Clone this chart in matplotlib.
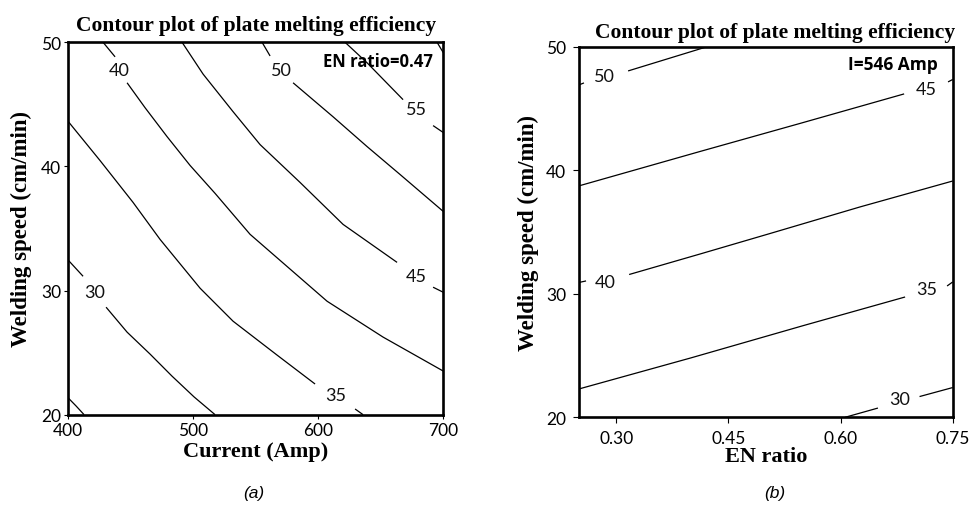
import matplotlib.pyplot as plt

# (a) efficiency contours over current / welding speed, EN ratio = 0.47
# each level: list of line pieces, each piece a list of (current, speed) points
cur_levels = [25, 30, 35, 40, 45, 50, 55, 60]
cur_lines = [
    [[(400, 21.34), (406.2, 20.7), (412.6, 20)]],
    [[(400, 32.44), (411.8, 31.15)],
     [(430.2, 28.66), (447.0, 26.65), (465.4, 24.88), (483.0, 23.1), (500.6, 21.43), (517.4, 20)]],
    [[(400, 43.61), (425.4, 40.47), (451.8, 37.1), (473.4, 34.12), (505.4, 30.19), (531.8, 27.53),
      (567.0, 24.8), (597.4, 22.47)],
     [(629.4, 20.46), (635.8, 20)]],
    [[(427.8, 50), (437.4, 48.83)],
     [(447.0, 46.74), (461.4, 44.73), (479.0, 42.4), (497.4, 40.08), (517.4, 37.83), (545.4, 34.53),
      (607.0, 29.14), (651.8, 26.25), (700, 23.51)]],
    [[(491.0, 50), (507.8, 47.44), (531.8, 44.41), (553.4, 41.76), (585.4, 38.71), (619.8, 35.33),
      (663.0, 32.27)],
     [(691.8, 30.27), (700, 29.86)]],
    [[(555.0, 50), (561.4, 48.9)],
     [(579.8, 46.74), (611.8, 44.0), (625.4, 42.8), (639.0, 41.6), (665.4, 39.35), (700, 36.37)]],
    [[(621.4, 50), (639.0, 48.35), (667.8, 45.38)],
     [(691.8, 43.29), (700, 42.73)]],
    [[(695.0, 50), (700, 49.16)]],
]
# inline labels: (level, current, speed)
cur_labels = [(30, 421.4, 29.9), (35, 614.2, 21.6), (40, 440.6, 47.8),
              (45, 678.2, 31.2), (50, 570.2, 47.8), (55, 678.2, 44.6)]
cur_ticks = [400, 500, 600, 700]

# (b) efficiency contours over EN ratio / welding speed, I = 546 Amp
en_levels = [30, 35, 40, 45, 50]
en_lines = [
    [[(0.606, 20), (0.650, 20.75)],
     [(0.7056, 21.68), (0.75, 22.41)]],
    [[(0.25, 22.29), (0.40, 24.81), (0.55, 27.42), (0.6863, 29.74)],
     [(0.7424, 30.63), (0.75, 30.96)]],
    [[(0.25, 30.91), (0.2598, 31.04)],
     [(0.3174, 31.56), (0.4122, 33.22), (0.5058, 34.88), (0.626, 37.03), (0.75, 39.13)]],
    [[(0.25, 38.73), (0.4122, 41.52), (0.5458, 43.79), (0.685, 46.18)],
     [(0.7437, 47.15), (0.75, 47.35)]],
    [[(0.25, 46.9), (0.257, 47.07)],
     [(0.316, 48.04), (0.4216, 50)]],
]
en_labels = [(30, 0.6796, 21.5), (35, 0.7146, 30.4), (40, 0.285, 30.95),
             (45, 0.7143, 46.6), (50, 0.284, 47.65)]
en_ticks = [0.30, 0.45, 0.60, 0.75]

speed_ticks = [20, 30, 40, 50]

serif = "Liberation Serif"
sans = "Lato"
title = "Contour plot of plate melting efficiency"

fig = plt.figure(figsize=(9.72, 5.06), dpi=100)
ax1 = fig.add_axes([0.0703, 0.1785, 0.3858, 0.7359])
ax2 = fig.add_axes([0.5954, 0.1733, 0.3848, 0.7324])


def draw_panel(ax, lines, labels):
    for pieces in lines:
        for piece in pieces:
            xs = [p[0] for p in piece]
            ys = [p[1] for p in piece]
            ax.plot(xs, ys, color="black", lw=0.9, solid_capstyle="butt")
    for level, x, y in labels:
        ax.text(x, y, str(level), ha="center", va="center", fontsize=13,
                family=sans, color="#111111")
    for s in ax.spines.values():
        s.set_linewidth(1.9)
    ax.set_yticks(speed_ticks)
    ax.set_ylim(20, 50)
    ax.set_ylabel("Welding speed (cm/min)", family=serif, fontweight="bold",
                  fontsize=16.5)


draw_panel(ax1, cur_lines, cur_labels)
ax1.set_xlim(400, 700)
ax1.set_xticks(cur_ticks)
ax1.set_xlabel("Current (Amp)", family=serif, fontweight="bold", fontsize=16)
ax1.tick_params(length=3, width=0.8, pad=2, labelsize=12.5)
ax1.set_title(title, family=serif, fontweight="bold", fontsize=15.5, pad=9)
ax1.text(0.9725, 0.95, "EN ratio=0.47", transform=ax1.transAxes, ha="right", va="center",
         family="Open Sans", fontweight="bold", fontsize=12)
ax1.yaxis.set_label_coords(-0.097, 0.5)
ax1.xaxis.set_label_coords(0.5, -0.072)

draw_panel(ax2, en_lines, en_labels)
ax2.set_xlim(0.25, 0.75)
ax2.set_xticks(en_ticks)
ax2.set_xticklabels(["%.2f" % t for t in en_ticks])
ax2.set_xlabel("EN ratio", family=serif, fontweight="bold", fontsize=16)
ax2.tick_params(length=4, width=0.8, pad=5, labelsize=12.5)
ax2.set_title(title, family=serif, fontweight="bold", fontsize=15.5, pad=7, x=0.525)
ax2.text(0.961, 0.953, "I=546 Amp", transform=ax2.transAxes, ha="right", va="center",
         family="Open Sans", fontweight="bold", fontsize=12.5)
ax2.yaxis.set_label_coords(-0.106, 0.5)
ax2.xaxis.set_label_coords(0.5, -0.078)

for ax in (ax1, ax2):
    for lab in ax.get_xticklabels() + ax.get_yticklabels():
        lab.set_family(sans)

fig.text(0.2613, 0.024, "(a)", ha="center", va="center", style="italic",
         family="Liberation Sans", fontsize=12.5)
fig.text(0.7973, 0.024, "(b)", ha="center", va="center", style="italic",
         family="Liberation Sans", fontsize=12.5)

fig.savefig("out.png", dpi=100)
